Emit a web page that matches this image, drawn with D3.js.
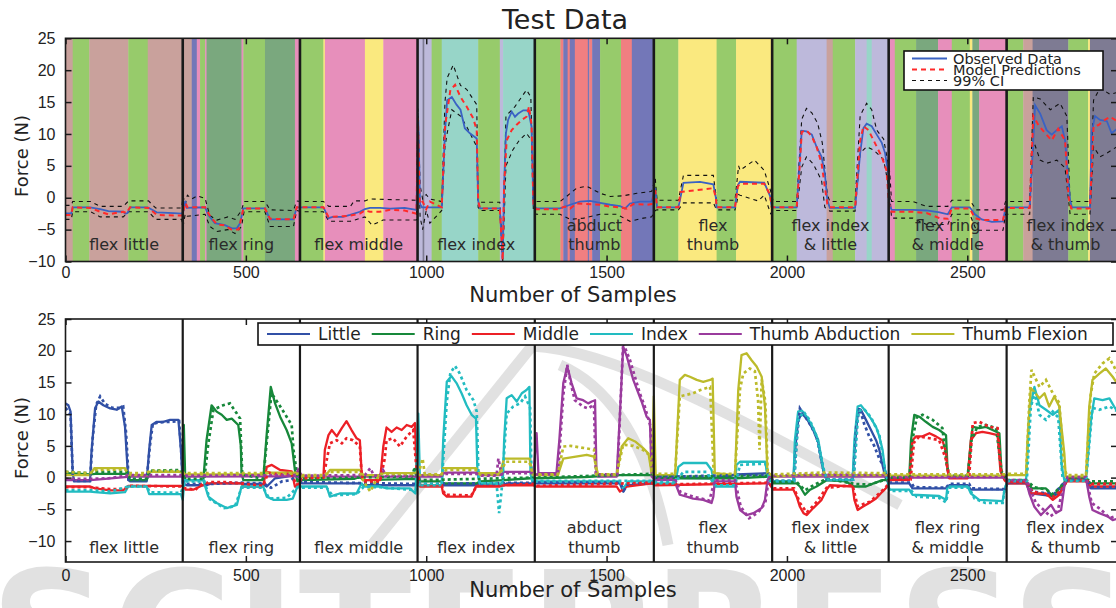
<!DOCTYPE html>
<html>
<head>
<meta charset="utf-8">
<script src="https://cdn.jsdelivr.net/npm/d3@7"></script>
<style>
  body { margin: 0; background: #fff; }
  svg { display: block; font-family: "DejaVu Sans", sans-serif; }
</style>
</head>
<body>
<div id="chart"></div>
<script>
// ---- data (sample index, force N) ----
const xTicks = [0, 500, 1000, 1500, 2000, 2500];
const yTicks = [-10, -5, 0, 5, 10, 15, 20, 25];

const segStarts = [0, 325, 650, 976, 1301, 1631, 1959, 2282, 2609];
const segEnd = 2935;
const segLabels = [["flex little"], ["flex ring"], ["flex middle"], ["flex index"], ["abduct", "thumb"],
  ["flex", "thumb"], ["flex index", "& little"], ["flex ring", "& middle"], ["flex index", "& thumb"]];

// classifier output shown as coloured bands behind the top panel
const bands = [
  [0, 20, "brown"], [20, 66, "green"], [66, 174, "brown"], [174, 228, "green"], [228, 325, "brown"],
  [325, 350, "brown"], [350, 364, "purple"], [364, 373, "pink"], [373, 387, "green"], [387, 391, "pink"],
  [391, 488, "dkgreen"], [488, 493, "pink"], [493, 553, "green"], [553, 636, "dkgreen"], [636, 650, "pink"],
  [650, 715, "green"], [715, 719, "yellow"], [719, 830, "pink"], [830, 881, "yellow"], [881, 976, "pink"],
  [976, 990, "lavender"], [990, 995, "slate"], [995, 1015, "lavender"], [1015, 1043, "green"], [1043, 1144, "teal"],
  [1144, 1204, "green"], [1204, 1213, "lavender"], [1213, 1301, "teal"],
  [1301, 1372, "green"], [1372, 1380, "salmon"], [1380, 1392, "purple"], [1392, 1398, "salmon"], [1398, 1412, "purple"],
  [1412, 1448, "salmon"], [1448, 1452, "purple"], [1452, 1460, "salmon"], [1460, 1482, "purple"], [1482, 1540, "green"],
  [1540, 1570, "salmon"], [1570, 1631, "purple"],
  [1631, 1699, "green"], [1699, 1805, "yellow"], [1805, 1859, "green"], [1859, 1959, "yellow"],
  [1959, 2027, "green"], [2027, 2110, "lavender"], [2110, 2127, "brown"], [2127, 2189, "green"], [2189, 2221, "lavender"],
  [2221, 2235, "teal"], [2235, 2282, "lavender"],
  [2282, 2299, "pink"], [2299, 2358, "green"], [2358, 2419, "dkgreen"], [2419, 2457, "pink"], [2457, 2507, "green"],
  [2507, 2514, "yellow"], [2514, 2533, "dkgreen"], [2533, 2609, "pink"],
  [2609, 2655, "green"], [2655, 2681, "brown"], [2681, 2780, "slate"], [2780, 2835, "green"], [2835, 2840, "yellow"],
  [2840, 2935, "slate"]
];

const observed = [[0,-2.45],[16,-2.45],[20,-1.5],[68,-1.5],[96,-1.8],[119,-2.1],[160,-2.2],[166,-2.5],[172,-2.4],[179,-1.5],[228,-1.5],[253,-2.3],[300,-2.4],[322,-2.5],
  [328,-2.0],[332,-0.5],[336,-1.6],[387,-1.5],[396,-2.7],[414,-4.0],[442,-4.3],[461,-4.8],[475,-4.8],[484,-4.0],[490,-2.5],[493,-1.67],[553,-1.67],[567,-3.4],[632,-3.4],[641,-1.5],
  [655,-1.5],[715,-1.5],[719,-2.0],[729,-3.2],[741,-3.0],[769,-3.0],[789,-2.7],[816,-2.2],[830,-1.8],[844,-1.6],[872,-1.6],[900,-1.7],[940,-1.6],[973,-1.9],
  [978,12.2],[983,-1.0],[988,-1.5],[1043,-1.5],[1052,10.1],[1058,15.3],[1071,15.8],[1084,14.6],[1095,13.8],[1107,10.9],[1121,10.1],[1140,9.3],[1144,-0.5],[1149,-1.67],[1204,-1.67],[1212,-9.6],[1216,2],[1221,10.1],[1227,12.2],[1237,13.5],[1246,12.7],[1255,13.2],[1269,13.7],[1283,13.7],[1292,11.1],[1297,-1.0],
  [1305,-1.67],[1371,-1.67],[1399,-1.1],[1426,-0.6],[1454,-0.5],[1482,-0.8],[1510,-1.1],[1537,-1.3],[1551,-1.7],[1565,-0.9],[1593,-0.6],[1625,-0.6],
  [1635,1.5],[1640,-1.5],[1699,-1.5],[1703,-0.5],[1713,2.35],[1759,2.5],[1796,2.1],[1803,0],[1805,-1.5],[1856,-1.5],[1864,2.0],[1870,2.5],[1937,2.35],[1953,0.3],[1958,-1.5],
  [1962,-1.5],[2027,-1.5],[2036,6.0],[2041,10.5],[2054,10.4],[2069,9.9],[2082,8.0],[2096,6.4],[2105,3.8],[2112,-0.4],[2119,-1.6],[2189,-1.6],[2203,7.0],[2212,10.9],[2221,11.6],[2235,11.2],[2249,9.9],[2263,8.6],[2272,7.0],[2281,3.8],[2284,-1.0],
  [2290,-1.9],[2349,-1.9],[2387,-2.0],[2423,-2.3],[2446,-2.6],[2457,-1.5],[2507,-1.5],[2521,-2.6],[2540,-3.4],[2568,-3.8],[2599,-3.7],[2606,-1.5],
  [2618,-1.5],[2673,-1.5],[2682,8],[2688,14.5],[2702,13.2],[2720,10.6],[2734,9.9],[2748,10.6],[2762,11.2],[2771,9.0],[2785,-0.4],[2790,-1.5],[2840,-1.5],[2845,10.3],[2854,12.8],[2868,12.2],[2887,12.0],[2900,10.1],[2915,10.8]];

const predicted = [[0,-2.7],[16,-2.7],[20,-1.5],[70,-1.6],[96,-2.2],[118,-2.6],[160,-2.2],[169,-2.4],[179,-1.5],[230,-1.6],[253,-2.7],[322,-2.8],
  [328,-1.8],[333,-0.8],[338,-1.5],[387,-1.5],[400,-2.8],[420,-4.2],[440,-4.3],[460,-5.0],[480,-5.0],[488,-3.0],[493,-1.7],[553,-1.7],[567,-3.3],[632,-3.4],[641,-1.5],
  [655,-1.5],[715,-1.5],[729,-3.0],[769,-2.9],[789,-2.8],[816,-2.5],[830,-2.0],[844,-2.2],[870,-2.2],[900,-1.9],[940,-2.0],[973,-2.5],
  [977,12.5],[982,-1.0],[990,-0.6],[1000,-1.8],[1010,-0.6],[1043,-1.5],[1052,11.1],[1067,16.9],[1080,17.7],[1095,15.8],[1112,14.3],[1130,12.5],[1140,10.6],[1144,-0.5],[1149,-1.67],[1204,-1.67],[1212,-9.8],[1216,2],[1223,9.0],[1237,10.6],[1250,11.4],[1265,12.2],[1278,12.7],[1285,14.3],[1292,11.5],[1297,-1.0],
  [1305,-1.8],[1365,-1.8],[1385,-1.4],[1399,-1.7],[1417,-0.9],[1445,-1.0],[1482,-1.1],[1510,-1.4],[1537,-1.5],[1556,-1.7],[1574,-1.0],[1611,-1.1],[1625,-1.0],
  [1635,1.2],[1640,-1.5],[1699,-1.5],[1705,0.9],[1750,1.2],[1796,1.5],[1803,0],[1805,-1.5],[1856,-1.5],[1864,1.8],[1872,2.2],[1937,2.2],[1953,0.5],[1958,-1.5],
  [1962,-1.5],[2027,-1.5],[2036,5.5],[2041,10.3],[2054,10.6],[2069,9.6],[2082,8.0],[2096,5.4],[2105,1.7],[2112,-1.0],[2119,-1.5],[2189,-1.5],[2203,9.0],[2212,11.2],[2226,10.6],[2249,8.0],[2263,6.4],[2276,4.3],[2283,-1.0],
  [2290,-2.2],[2349,-2.2],[2387,-2.4],[2423,-3.2],[2446,-3.3],[2457,-1.7],[2507,-1.7],[2521,-3.2],[2540,-3.5],[2599,-3.5],[2606,-1.5],
  [2618,-1.6],[2673,-1.6],[2683,12.8],[2697,11.4],[2716,10.1],[2734,9.0],[2752,10.8],[2771,9.0],[2781,0],[2788,-1.7],[2840,-1.7],[2850,11.2],[2864,11.4],[2878,12.1],[2896,12.7],[2915,12.0]];

const ciUpper = [[0,-1.2],[16,-1.2],[20,-0.6],[70,-0.6],[96,-1.35],[160,-1.35],[175,-0.5],[230,-0.5],[250,-1.6],[322,-1.6],
  [326,0.2],[332,-1.0],[338,0.4],[350,-0.2],[365,0.3],[387,-0.1],[400,-2.8],[420,-3.5],[450,-3.0],[470,-3.4],[488,-2.0],[495,-0.6],[553,-0.6],[567,-1.9],[632,-2.0],[641,-0.5],
  [655,-0.6],[715,-0.6],[730,-1.35],[790,-1.35],[800,-0.5],[830,-0.5],[844,-0.2],[973,-0.4],
  [977,14.0],[983,2.0],[990,-0.2],[1000,0.5],[1010,-0.2],[1043,-0.6],[1052,15.0],[1058,18.8],[1075,20.8],[1095,17.6],[1112,17.0],[1140,14.6],[1144,-0.5],[1149,-0.7],[1204,-0.7],[1212,-8.5],[1221,12.8],[1246,14.3],[1278,16.9],[1290,15.8],[1297,0.0],
  [1305,-0.6],[1371,-0.6],[1389,0.2],[1417,1.5],[1445,1.8],[1482,0.7],[1510,0.2],[1546,0.3],[1584,0.7],[1625,1.0],
  [1635,3.0],[1640,-0.4],[1699,-0.4],[1713,3.5],[1796,3.5],[1805,-0.4],[1856,-0.4],[1866,5.0],[1870,4.3],[1910,5.9],[1937,4.3],[1955,1.0],
  [1962,-0.6],[2027,-0.6],[2041,12.3],[2054,14.0],[2069,13.3],[2085,11.7],[2098,8.6],[2112,0.5],[2119,-0.6],[2189,-0.6],[2203,12.9],[2221,14.8],[2235,13.8],[2249,10.6],[2268,9.2],[2285,4.0],
  [2290,-0.6],[2349,-0.6],[2387,-1.35],[2446,-1.35],[2457,-0.4],[2507,-0.4],[2525,-1.9],[2599,-1.9],[2606,-0.6],
  [2618,-0.6],[2673,-0.6],[2683,15.8],[2702,15.5],[2730,13.8],[2757,14.8],[2776,12.8],[2785,-0.6],[2840,-0.6],[2850,15.3],[2868,17.2],[2896,16.2],[2915,16.5]];

const ciLower = [[0,-3.4],[16,-3.4],[20,-2.2],[70,-2.2],[96,-3.0],[160,-3.0],[175,-2.2],[230,-2.2],[250,-3.4],[322,-3.4],
  [326,-4.5],[332,-2.5],[338,-2.9],[387,-2.6],[400,-4.5],[420,-5.3],[450,-5.0],[470,-5.6],[488,-4.5],[495,-2.2],[553,-2.2],[567,-4.5],[632,-4.5],[641,-2.0],
  [655,-2.2],[715,-2.2],[730,-3.7],[790,-3.7],[830,-3.0],[850,-4.3],[880,-3.5],[973,-3.5],
  [977,10.0],[983,-3.0],[990,-5.0],[1000,-2.0],[1010,-4.0],[1043,-2.0],[1052,8.0],[1058,10.1],[1071,13.8],[1095,12.8],[1112,11.2],[1140,8.0],[1144,-1.5],[1149,-2.0],[1204,-2.0],[1212,-10.2],[1221,5.0],[1240,7.5],[1258,9.0],[1278,10.1],[1292,9.0],[1297,-2.0],
  [1305,-2.6],[1371,-2.6],[1399,-3.4],[1436,-3.2],[1482,-2.6],[1528,-2.6],[1565,-3.7],[1602,-3.2],[1625,-3.0],
  [1635,-2.0],[1640,-1.9],[1699,-1.9],[1713,-0.8],[1796,-0.8],[1805,-1.9],[1856,-1.9],[1866,0.5],[1870,0.4],[1920,-0.5],[1937,0.4],[1955,-2.5],
  [1962,-2.0],[2027,-2.0],[2041,4.8],[2054,6.4],[2073,5.3],[2096,2.7],[2105,-1.5],[2119,-2.1],[2189,-2.1],[2203,7.0],[2221,8.0],[2240,7.5],[2268,6.0],[2285,0.8],
  [2290,-3.2],[2349,-3.2],[2387,-4.2],[2446,-4.2],[2457,-2.6],[2507,-2.6],[2525,-5.1],[2599,-5.1],[2606,-2.6],
  [2618,-2.6],[2673,-2.6],[2683,9.0],[2702,5.9],[2720,5.4],[2748,5.9],[2771,4.7],[2785,-2.6],[2840,-2.6],[2850,8.0],[2868,6.4],[2887,7.0],[2915,8.0]];

// per-finger forces, bottom panel
const fingerNames = ["Little", "Ring", "Middle", "Index", "Thumb Abduction", "Thumb Flexion"];

const littleObs = [[0,11.7],[8,11.4],[14,10.4],[20,0.7],[24,-0.6],[68,-0.6],[72,4],[82,10.9],[91,12.0],[105,11.4],[124,10.9],[142,10.7],[156,11.2],[165,8.0],[174,-0.4],[179,-0.6],[225,-0.6],[232,4.4],[239,8.3],[253,8.8],[271,8.8],[290,9.1],[313,9.1],[320,4.4],[325,-0.9],
  [336,-1.2],[391,-1.2],[405,-0.9],[488,-0.9],[493,-1.0],[548,-1.0],[558,-1.4],[581,-0.1],[613,0.15],[643,0.6],
  [655,-0.9],[816,-0.9],[826,-1.2],[970,-1.2],[983,-1.2],[1216,-1.2],[1223,-0.9],[1295,-0.9],
  [1305,-0.9],[1537,-0.9],[1546,-2.2],[1556,-1.2],[1625,-0.9],[1635,0],[1800,-0.1],[1860,0.5],[1950,0.7],
  [1962,-0.6],[2018,-0.6],[2022,4],[2031,9.0],[2041,10.1],[2055,9.3],[2073,7.5],[2087,5.5],[2101,1.0],[2110,-0.4],[2182,-0.4],[2187,4],[2196,10.0],[2205,10.7],[2219,9.1],[2233,7.5],[2247,5.9],[2256,4.4],[2265,2.0],[2273,0],[2279,-0.6],
  [2284,-0.9],[2339,-0.9],[2348,-1.7],[2441,-1.7],[2450,-1.2],[2501,-1.2],[2510,-1.9],[2603,-1.9],
  [2612,-0.9],[2663,-0.9],[2676,-2.5],[2737,-2.9],[2755,-2.5],[2769,-1.0],[2778,-0.4],[2829,-0.4],[2843,-1.7],[2915,-1.7]];
const littlePred = [[0,11.0],[14,10.0],[20,0.5],[24,-0.5],[68,-0.5],[75,6],[85,11.5],[96,12.8],[110,11.6],[130,11.0],[150,11.0],[160,11.2],[168,7],[175,-0.3],[225,-0.3],[234,5],[242,8.5],[260,8.7],[290,8.8],[315,8.9],[321,4],[326,-0.8],
  [336,-1.0],[400,-1.0],[488,-0.8],[548,-0.9],[570,-1.6],[600,-0.6],[625,-0.4],[643,0.4],
  [655,-0.7],[970,-1.0],[983,-1.0],[1295,-0.8],
  [1305,-0.8],[1537,-0.8],[1548,-2.0],[1560,-1.0],[1625,-0.8],[1635,0.1],[1950,0.5],
  [1962,-0.5],[2020,-0.5],[2027,6],[2036,10.9],[2046,10.0],[2064,8.4],[2082,6.5],[2100,1.5],[2110,-0.3],[2185,-0.3],[2192,8],[2201,11.0],[2214,8.5],[2228,6.5],[2242,5.0],[2256,3.0],[2270,1.5],[2279,-0.5],
  [2284,-0.8],[2345,-0.8],[2352,-1.5],[2441,-1.6],[2450,-1.0],[2505,-1.0],[2512,-1.7],[2603,-1.8],
  [2612,-0.8],[2665,-0.8],[2680,-2.2],[2740,-2.6],[2765,-1.0],[2778,-0.3],[2830,-0.3],[2845,-1.5],[2915,-1.5]];

const ringObs = [[0,0.7],[68,0.5],[82,0.6],[170,0.6],[179,-0.4],[225,-0.4],[234,0.9],[320,0.9],[325,0.5],
  [328,8.3],[332,-0.4],[382,-0.4],[391,5.9],[405,11.4],[419,10.4],[433,9.9],[447,9.1],[461,9.3],[479,8.3],[486,5],[488,0.7],[493,-0.4],[548,-0.4],[558,7.0],[569,14.3],[581,11.7],[595,9.6],[613,7.5],[627,5.4],[636,1.2],[643,-0.6],
  [655,-0.4],[800,-0.2],[816,0.1],[826,-0.4],[970,-0.2],
  [983,-0.6],[1043,-0.6],[1050,-0.9],[1140,-0.9],[1149,-0.6],[1216,-0.4],[1290,-0.1],
  [1305,-0.1],[1440,0.1],[1537,0.4],[1625,0.4],[1635,-0.1],[1860,-0.1],[1950,0.15],
  [1962,-0.9],[2027,-0.9],[2036,-1.4],[2050,-2.7],[2064,-1.9],[2082,-1.4],[2110,-0.4],[2164,-0.6],[2185,-1.4],[2219,-1.4],[2240,-0.9],[2265,-0.4],[2279,-0.4],
  [2284,-0.1],[2339,-0.1],[2344,5.9],[2353,9.9],[2367,9.6],[2385,8.8],[2404,8.0],[2422,7.5],[2441,6.7],[2445,1.7],[2450,0.15],[2501,0.15],[2510,5.9],[2515,8.0],[2533,7.8],[2552,8.0],[2570,7.5],[2589,7.0],[2595,0.7],[2603,0],
  [2612,-0.6],[2663,-0.6],[2680,-1.7],[2718,-1.7],[2737,-3.0],[2755,-1.7],[2775,-0.4],[2829,-0.4],[2843,-0.9],[2915,-0.9]];
const ringPred = [[0,0.9],[68,0.7],[82,0.9],[170,0.9],[179,-0.2],[225,-0.2],[234,1.1],[320,1.2],[325,0.8],
  [332,-0.2],[385,-0.2],[395,5],[410,10.7],[437,11.4],[456,11.7],[475,10.1],[484,9.3],[490,0.5],[548,-0.2],[562,8],[571,13.3],[590,11.7],[613,9.6],[627,8.3],[632,4.4],[640,1.2],[645,-0.4],
  [655,-0.2],[960,0.2],[969,1.7],[973,0],[983,-0.4],[1295,0],
  [1305,0],[1625,0.6],[1635,0.1],[1950,0.3],
  [1962,-0.7],[2027,-0.7],[2050,-2.0],[2080,-1.0],[2110,-0.2],[2190,-1.0],[2230,-1.1],[2279,-0.2],
  [2284,0],[2340,0],[2348,6],[2360,9.5],[2376,9.9],[2404,9.1],[2431,7.8],[2443,2],[2450,0.3],[2501,0.3],[2512,6],[2528,8.0],[2552,8.3],[2580,7.8],[2595,1],[2603,0.2],
  [2612,-0.4],[2663,-0.4],[2685,-1.5],[2720,-1.9],[2737,-2.6],[2760,-1.4],[2778,-0.2],[2829,-0.2],[2845,-0.6],[2915,-0.6]];

const middleObs = [[0,-1.4],[68,-1.4],[82,-1.7],[124,-2.0],[160,-2.0],[174,-1.3],[325,-1.3],
  [332,-1.9],[354,-1.9],[373,-1.4],[391,-0.9],[488,-0.9],[493,-1.4],[548,-1.4],[558,1.7],[572,2.0],[595,1.2],[627,1.0],[636,-1.4],[645,-1.4],
  [655,0.15],[715,0.15],[719,4.4],[729,6.7],[738,7.5],[752,6.5],[766,7.8],[779,8.9],[793,7.5],[807,6.2],[816,5.9],[821,0.7],[826,-0.4],[872,-0.4],[881,4.9],[890,7.9],[904,7.2],[918,7.9],[932,7.5],[946,8.3],[960,8.0],[969,8.6],[973,1],
  [983,-1.4],[1043,-1.4],[1047,-2.5],[1057,-3.0],[1125,-3.0],[1138,-1.4],[1204,-1.4],[1216,-1.2],[1295,-1.2],
  [1305,-1.4],[1528,-1.4],[1537,-2.2],[1556,-1.4],[1625,-0.9],[1635,-1.2],[1950,-0.9],
  [1962,-1.9],[2018,-1.9],[2027,-3.0],[2036,-4.6],[2046,-5.6],[2055,-5.9],[2073,-4.8],[2096,-3.5],[2110,-1.9],[2119,-1.2],[2182,-1.4],[2187,-3.5],[2196,-5.1],[2210,-4.6],[2228,-4.0],[2247,-3.3],[2265,-2.2],[2279,-1.4],
  [2284,-0.4],[2339,-0.4],[2348,5.9],[2358,6.5],[2376,6.5],[2395,7.0],[2413,6.5],[2431,5.9],[2441,4],[2445,1.2],[2450,-0.1],[2501,-0.1],[2510,5.9],[2524,7.0],[2542,7.2],[2561,7.0],[2584,6.7],[2592,1],[2603,-0.4],
  [2612,-0.9],[2663,-0.9],[2676,-2.5],[2718,-2.5],[2737,-3.5],[2755,-2.7],[2775,-0.6],[2829,-0.6],[2843,-1.4],[2915,-1.4]];
const middlePred = [[0,-1.5],[68,-1.5],[85,-1.6],[124,-1.8],[165,-1.8],[174,-1.3],[325,-1.4],
  [332,-1.7],[360,-1.9],[380,-1.0],[400,-0.7],[440,-0.7],[488,-0.9],[548,-1.3],[562,0.8],[590,0.5],[627,0.6],[640,-1.2],
  [655,-0.1],[715,0],[725,3],[733,5.4],[752,5.9],[766,5.4],[779,6.2],[797,5.9],[816,4.9],[821,0.5],[826,-0.6],[872,-0.6],[885,3],[890,5.9],[908,6.2],[927,4.9],[946,6.5],[964,7.5],[972,2],
  [983,-1.2],[1043,-1.2],[1052,-2.7],[1125,-2.8],[1140,-1.3],[1295,-1.0],
  [1305,-1.3],[1625,-0.8],[1635,-1.1],[1950,-0.8],
  [1962,-1.7],[2020,-1.7],[2036,-4.0],[2055,-5.5],[2080,-4.0],[2110,-1.6],[2182,-1.2],[2196,-4.5],[2230,-3.8],[2265,-2.0],[2279,-1.2],
  [2284,-0.3],[2343,-0.3],[2352,5.5],[2367,6.5],[2395,6.2],[2422,5.9],[2440,3],[2450,0],[2505,0],[2515,8.6],[2533,8.8],[2561,8.0],[2584,7.8],[2594,1],[2603,-0.2],
  [2612,-0.7],[2665,-0.7],[2680,-2.2],[2740,-3.0],[2760,-2.0],[2778,-0.4],[2829,-0.4],[2845,-1.0],[2915,-1.0]];

const indexObs = [[0,-2.2],[68,-2.2],[82,-2.3],[124,-2.5],[165,-2.3],[174,-1.4],[225,-1.4],[232,-2.6],[320,-2.6],[325,-3.5],
  [330,-0.4],[382,-0.4],[396,-3.0],[419,-4.0],[447,-4.8],[475,-4.3],[488,-1.4],[548,-1.4],[558,-3.0],[576,-3.5],[613,-3.5],[630,-3.3],[643,-1.4],
  [655,-1.4],[724,-1.4],[733,-3.0],[760,-2.5],[807,-2.5],[821,-0.9],[826,-1.4],[872,-1.4],[890,-1.7],[955,-1.7],[970,-2.5],
  [978,10.1],[983,-1.2],[1043,-1.2],[1047,5.9],[1057,15.1],[1070,16.0],[1084,14.9],[1098,13.3],[1112,11.4],[1126,9.9],[1138,9.3],[1142,0.7],[1149,-0.9],[1204,-0.9],[1212,-1.2],[1216,5.9],[1223,12.5],[1237,13.0],[1251,12.0],[1265,13.3],[1278,13.8],[1286,14.3],[1289,0.7],[1295,-0.9],
  [1305,-0.6],[1537,-0.6],[1546,-1.7],[1560,-0.6],[1625,-0.6],
  [1635,-0.9],[1690,-0.9],[1699,1.7],[1713,2.3],[1777,2.3],[1791,1.2],[1800,-1.4],[1856,-1.4],[1860,2.0],[1870,2.5],[1940,2.5],[1946,0.2],[1953,-0.6],
  [1962,-0.6],[2018,-0.6],[2022,5.9],[2031,10.4],[2041,10.6],[2055,9.6],[2073,7.8],[2087,5.9],[2101,1.2],[2110,-0.4],[2182,-0.4],[2187,5.9],[2196,11.2],[2205,11.4],[2219,10.4],[2233,9.3],[2247,8.0],[2256,6.5],[2265,4.4],[2273,0.7],[2279,-0.4],
  [2284,-1.9],[2339,-1.9],[2348,-2.7],[2422,-2.9],[2441,-3.5],[2445,-1.4],[2501,-1.4],[2510,-2.5],[2533,-3.5],[2598,-3.7],[2603,-1.9],
  [2612,-0.4],[2663,-0.4],[2672,10.5],[2686,14.3],[2700,11.4],[2718,10.7],[2737,9.9],[2755,10.7],[2762,1.7],[2769,-0.4],[2829,-0.4],[2843,9.1],[2852,12.5],[2875,12.2],[2894,12.5],[2907,11.2],[2915,10.5]];
const indexPred = [[0,-2.0],[68,-2.0],[124,-2.2],[174,-1.4],[225,-1.4],[234,-2.3],[320,-2.4],
  [332,-0.6],[385,-0.6],[400,-3.4],[440,-4.8],[470,-4.5],[488,-1.6],[548,-1.6],[565,-3.3],[613,-3.2],[643,-1.5],
  [655,-1.6],[724,-1.6],[740,-2.8],[807,-2.6],[826,-1.5],[872,-1.5],[955,-1.9],[970,-2.0],
  [983,-1.0],[1043,-1.0],[1057,12.0],[1067,16.5],[1080,17.6],[1093,16.4],[1112,13.8],[1131,12.2],[1140,10.4],[1145,0],[1149,-0.9],[1195,-0.9],[1202,-5.6],[1209,-2.0],[1215,3],[1223,10.1],[1241,11.2],[1260,11.7],[1274,12.8],[1288,11.0],[1292,0],[1297,-0.8],
  [1305,-0.5],[1625,-0.5],
  [1635,-0.7],[1690,-0.7],[1713,0.9],[1777,0.9],[1800,-1.2],[1856,-1.2],[1870,2.0],[1940,2.2],[1953,-0.4],
  [1962,-0.5],[2020,-0.5],[2031,9],[2046,10.4],[2064,9.0],[2082,6.5],[2101,1.5],[2110,-0.3],[2185,-0.3],[2198,10.5],[2214,10.8],[2233,9.5],[2256,6.8],[2273,1.0],[2279,-0.3],
  [2284,-2.1],[2345,-2.1],[2360,-3.0],[2422,-3.2],[2441,-3.9],[2448,-1.6],[2505,-1.6],[2520,-3.3],[2550,-4.0],[2598,-4.0],[2603,-2.0],
  [2612,-0.5],[2665,-0.5],[2676,11],[2686,13.5],[2700,9.9],[2718,9.1],[2737,10.4],[2752,9.5],[2764,0],[2775,-0.5],[2829,-0.5],[2847,11],[2866,10.7],[2894,11.2],[2915,10.5]];

const abductObs = [[0,-0.4],[68,-0.4],[110,-0.2],[180,0.15],[325,0.15],[330,0.15],[643,0.2],[655,0.15],[970,0.15],
  [983,0.15],[1043,0.15],[1050,0.8],[1140,0.8],[1149,0.4],[1204,0.4],[1216,0.9],[1290,0.9],[1297,0.5],
  [1306,7.0],[1311,0.7],[1361,0.7],[1369,5.9],[1380,14.9],[1391,17.5],[1403,14.9],[1417,12.5],[1435,12.2],[1449,11.7],[1459,12.0],[1468,12.2],[1472,0.7],[1477,0.15],[1528,0.15],[1537,10.1],[1546,20.6],[1556,19.1],[1574,15.4],[1597,12.0],[1611,9.6],[1620,9.1],[1625,0.2],
  [1635,-0.4],[1690,-0.4],[1694,-1.4],[1703,-2.7],[1722,-3.0],[1740,-3.3],[1768,-3.5],[1791,-4.0],[1796,-3.0],[1800,-0.6],[1856,-0.6],[1860,-3.0],[1870,-5.1],[1888,-5.9],[1907,-5.6],[1930,-4.8],[1939,-3.5],[1946,-0.4],[1953,0],
  [1962,0.15],[2279,0.2],[2284,0],[2603,0],
  [2612,-0.6],[2663,-0.6],[2672,-2.5],[2686,-4.6],[2704,-5.9],[2718,-5.1],[2732,-4.3],[2746,-5.6],[2760,-5.1],[2769,-1.4],[2778,-0.1],[2829,-0.1],[2838,-3.0],[2847,-5.1],[2866,-5.6],[2889,-6.1],[2903,-6.7],[2915,-6.5]];
const abductPred = [[0,-0.2],[68,-0.2],[120,-0.1],[180,0.4],[325,0.4],[330,0.3],[640,0.4],[645,1.2],
  [655,0.3],[830,0.4],[845,1.5],[855,0.3],[872,0.3],[880,1.2],[890,0.3],[970,0.3],
  [983,0.3],[1043,0.3],[1055,0.6],[1140,0.6],[1150,0.3],[1195,0.3],[1200,3.0],[1209,0.5],[1220,0.7],[1295,0.7],
  [1305,0.5],[1365,0.5],[1380,13],[1391,17.8],[1400,15],[1412,12.2],[1435,11.2],[1449,10.9],[1465,11.5],[1470,0.5],[1530,0.5],[1546,21.2],[1565,18.5],[1592,13.3],[1606,11.2],[1622,8],[1626,0.3],
  [1635,-0.2],[1690,-0.2],[1705,-2.3],[1740,-3.0],[1785,-3.6],[1800,-0.4],[1856,-0.4],[1872,-4.6],[1895,-6.4],[1920,-5.5],[1940,-4.0],[1950,0],
  [1962,0.3],[2100,0.5],[2279,0.4],[2284,0.1],[2603,0.1],
  [2612,-0.4],[2665,-0.4],[2690,-4.0],[2710,-5.0],[2730,-6.1],[2750,-5.3],[2769,-1.0],[2778,0.1],[2829,0.1],[2845,-4.0],[2870,-5.0],[2895,-6.4],[2915,-6.0]];

const flexionObs = [[0,0.4],[68,0.4],[80,1.5],[165,1.5],[174,0.4],[225,0.4],[234,0.9],[320,0.9],
  [330,0.5],[548,0.5],[558,0.8],[643,0.8],
  [655,0.15],[719,0.15],[733,1.2],[816,1.2],[826,0.4],[872,0.4],[881,0.7],[970,0.7],
  [983,0.4],[1043,0.4],[1047,1.5],[1138,1.5],[1149,0.7],[1204,0.7],[1216,3.0],[1286,3.0],[1295,0.7],
  [1305,0.4],[1365,0.4],[1380,3.0],[1445,3.6],[1465,3.3],[1472,1.5],[1477,0.4],[1528,0.4],[1542,4.9],[1560,6.2],[1579,5.7],[1602,4.6],[1616,3.8],[1625,0.7],
  [1631,12.8],[1636,0.4],[1690,0.4],[1697,8.6],[1703,15.4],[1717,16.2],[1731,15.9],[1750,15.4],[1768,15.1],[1787,15.4],[1794,15.6],[1800,0.7],[1856,0.4],[1865,13.8],[1874,19.3],[1888,19.6],[1902,18.5],[1916,17.5],[1930,15.9],[1939,11.2],[1946,0.7],[1953,0.4],
  [1962,0.15],[2030,0.4],[2279,0.4],[2284,0.3],[2603,0.3],
  [2612,0.4],[2663,0.4],[2667,5.9],[2676,14.1],[2686,13.5],[2700,12.5],[2714,13.3],[2727,11.2],[2741,12.8],[2755,11.2],[2769,3.8],[2773,0.15],[2829,0.15],[2838,11.2],[2847,15.4],[2866,16.4],[2884,17.2],[2903,15.9],[2915,14.9]];
const flexionPred = [[0,0.9],[68,0.7],[85,1.2],[165,1.3],[175,0.7],[225,0.7],[234,1.1],[320,1.0],
  [330,0.7],[548,0.7],[560,0.7],[643,0.6],
  [655,0.4],[719,0.4],[733,0.9],[816,0.9],[826,-0.6],[845,-2.2],[860,-0.5],[872,0.6],[970,0.6],
  [983,1.5],[990,3],[996,0.5],[1043,0.5],[1055,1.2],[1138,1.2],[1149,0.5],[1204,0.5],[1220,2.5],[1286,2.5],[1295,0.5],
  [1305,0.5],[1365,0.5],[1380,4.9],[1400,5.0],[1445,4.6],[1465,4.4],[1472,0.5],[1528,0.5],[1546,5.2],[1574,5.0],[1600,4.4],[1620,3.5],[1625,0.5],
  [1636,0.6],[1690,0.6],[1703,12.8],[1740,13.3],[1760,13.8],[1787,14.3],[1797,0.6],[1856,0.6],[1870,14],[1879,16.4],[1897,17.2],[1911,16.8],[1920,12.2],[1924,4.4],[1930,15.5],[1940,12],[1947,0.6],
  [1962,0.5],[2100,0.8],[2279,0.7],[2284,0.5],[2603,0.5],
  [2612,0.6],[2663,0.6],[2672,12],[2678,17.0],[2700,14.3],[2718,15.4],[2737,13.3],[2755,11.8],[2768,2],[2775,0.4],[2829,0.4],[2842,13],[2852,16.4],[2875,18.0],[2894,18.8],[2907,17.5],[2915,16.5]];

const fingerObs = [littleObs, ringObs, middleObs, indexObs, abductObs, flexionObs];
const fingerPred = [littlePred, ringPred, middlePred, indexPred, abductPred, flexionPred];

// ---- styles ----
const bandColor = {
  brown: "#c9a19c", green: "#97cb6b", dkgreen: "#7aa87e", purple: "#7377b8", pink: "#e78fbb",
  yellow: "#fae97f", teal: "#97d5c8", lavender: "#bdb9db", salmon: "#f07f81", slate: "#7e7b93"
};
const fingerColor = ["#3150a6", "#17883a", "#ec2026", "#22bcc1", "#9a3b9d", "#bcbb2b"];

const svg = d3.select("#chart").append("svg")
    .attr("width", 1116)
    .attr("height", 608);

const x = d3.scaleLinear().domain([0, 2915]).range([65.5, 1117]);
const yTop = d3.scaleLinear().domain([-10, 25]).range([261.5, 38.3]);
const yBot = d3.scaleLinear().domain([-13.3, 25]).range([562, 319]);

// faint publisher watermark behind the lower panel
const wm = svg.append("g").attr("opacity", 0.45);
wm.append("text")
    .attr("x", -10).attr("y", 690)
    .attr("textLength", 1140)
    .style("font-size", "165px").style("font-weight", "bold")
    .attr("fill", "#bdbdbd")
    .text("SCITEPRESS");
wm.append("path").attr("d", "M372,545 L532,346 C620,350 760,430 900,505")
    .attr("fill", "none").attr("stroke", "#bdbdbd").attr("stroke-width", 11);
wm.append("path").attr("d", "M560,365 Q640,400 668,545")
    .attr("fill", "none").attr("stroke", "#bdbdbd").attr("stroke-width", 11);

function panel(y, id, padX) {
    const top = y.range()[1], bottom = y.range()[0];
    const g = svg.append("g");
    g.append("clipPath").attr("id", id)
      .append("rect").attr("x", x.range()[0]).attr("y", top)
      .attr("width", x.range()[1] - x.range()[0]).attr("height", bottom - top);
    const inner = g.append("g").attr("clip-path", `url(#${id})`);

    const axisG = g.append("g");
    axisG.append("g").attr("transform", `translate(0,${bottom})`)
        .call(d3.axisBottom(x).tickValues(xTicks).tickSize(-6).tickPadding(padX).tickFormat(d3.format("d")));
    axisG.append("g").attr("transform", `translate(0,${top})`)
        .call(d3.axisTop(x).tickValues(xTicks).tickSize(-6).tickFormat(""));
    axisG.append("g").attr("transform", `translate(${x.range()[0]},0)`)
        .call(d3.axisLeft(y).tickValues(yTicks).tickSize(-6).tickPadding(10));
    axisG.append("g").attr("transform", `translate(${x.range()[1]},0)`)
        .call(d3.axisRight(y).tickValues(yTicks).tickSize(-6).tickFormat(""));
    axisG.selectAll(".domain").remove();
    axisG.selectAll(".tick line").attr("stroke", "#1a1a1a").attr("stroke-width", 1.5);
    axisG.selectAll(".tick text").style("font-size", "16px").attr("fill", "#222");

    return { g, inner, axisG, top, bottom };
}

// ===== top panel =====
const P1 = panel(yTop, "clipTop", 5);

P1.inner.selectAll("rect.band").data(bands).enter().append("rect")
    .attr("class", "band")
    .attr("x", d => x(d[0]))
    .attr("width", d => x(d[1]) - x(d[0]) + 0.4)
    .attr("y", P1.top).attr("height", P1.bottom - P1.top)
    .attr("fill", d => bandColor[d[2]]);

const lineTop = d3.line().x(d => x(d[0])).y(d => yTop(d[1]));

P1.inner.append("path").datum(ciUpper).attr("d", lineTop)
    .attr("fill", "none").attr("stroke", "#111").attr("stroke-width", 1.1).attr("stroke-dasharray", "4,4");
P1.inner.append("path").datum(ciLower).attr("d", lineTop)
    .attr("fill", "none").attr("stroke", "#111").attr("stroke-width", 1.1).attr("stroke-dasharray", "4,4");
P1.inner.append("path").datum(observed).attr("d", lineTop)
    .attr("fill", "none").attr("stroke", "#3a62c4").attr("stroke-width", 1.8);
P1.inner.append("path").datum(predicted).attr("d", lineTop)
    .attr("fill", "none").attr("stroke", "#ff2a2a").attr("stroke-width", 2).attr("stroke-dasharray", "5,4");

// segment dividers
P1.inner.selectAll("line.seg").data(segStarts.slice(1)).enter().append("line")
    .attr("x1", d => x(d)).attr("x2", d => x(d))
    .attr("y1", P1.top).attr("y2", P1.bottom)
    .attr("stroke", "#1a1a1a").attr("stroke-width", 2.6);

function segmentLabels(P, base1, base2) {
    segLabels.forEach((lab, i) => {
        const cx = x((segStarts[i] + (segStarts[i + 1] || segEnd)) / 2);
        const t = P.inner.append("text")
            .attr("text-anchor", "middle")
            .style("font-size", "16px")
            .attr("fill", "#2b2b2b");
        if (lab.length === 1) {
            t.append("tspan").attr("x", cx).attr("y", base2).text(lab[0]);
        } else {
            t.append("tspan").attr("x", cx).attr("y", base1).text(lab[0]);
            t.append("tspan").attr("x", cx).attr("y", base2).text(lab[1]);
        }
    });
}
segmentLabels(P1, 231, 250);

P1.g.append("rect")
    .attr("x", x.range()[0]).attr("y", P1.top)
    .attr("width", x.range()[1] - x.range()[0]).attr("height", P1.bottom - P1.top)
    .attr("fill", "none").attr("stroke", "#1a1a1a").attr("stroke-width", 1.6);

// top legend
const leg1 = svg.append("g");
leg1.append("rect").attr("x", 904).attr("y", 51).attr("width", 199).attr("height", 39)
    .attr("fill", "#fff").attr("stroke", "#111").attr("stroke-width", 1.6);
const leg1Items = [
    { label: "Observed Data", color: "#3a62c4", dash: null, w: 1.8 },
    { label: "Model Predictions", color: "#ff2a2a", dash: "5,4", w: 2 },
    { label: "99% CI", color: "#111", dash: "4,4", w: 1.1 }
];
leg1Items.forEach((d, i) => {
    const cy = 58.5 + i * 11;
    leg1.append("line").attr("x1", 912).attr("x2", 947).attr("y1", cy).attr("y2", cy)
        .attr("stroke", d.color).attr("stroke-width", d.w).attr("stroke-dasharray", d.dash);
    leg1.append("text").attr("x", 953).attr("y", cy + 5)
        .style("font-size", "14.5px").attr("fill", "#222").text(d.label);
});

// ===== bottom panel =====
const P2 = panel(yBot, "clipBot", 8);
const lineBot = d3.line().x(d => x(d[0])).y(d => yBot(d[1]));

fingerObs.forEach((s, i) => {
    P2.inner.append("path").datum(s).attr("d", lineBot)
        .attr("fill", "none").attr("stroke", fingerColor[i]).attr("stroke-width", 2.3)
        .attr("stroke-linejoin", "round");
});
fingerPred.forEach((s, i) => {
    P2.inner.append("path").datum(s).attr("d", lineBot)
        .attr("fill", "none").attr("stroke", fingerColor[i]).attr("stroke-width", 2.7)
        .attr("stroke-dasharray", "3,3");
});

P2.inner.selectAll("line.seg").data(segStarts.slice(1)).enter().append("line")
    .attr("x1", d => x(d)).attr("x2", d => x(d))
    .attr("y1", P2.top).attr("y2", P2.bottom)
    .attr("stroke", "#1a1a1a").attr("stroke-width", 2.2);

segmentLabels(P2, 533, 553);

P2.g.append("rect")
    .attr("x", x.range()[0]).attr("y", P2.top)
    .attr("width", x.range()[1] - x.range()[0]).attr("height", P2.bottom - P2.top)
    .attr("fill", "none").attr("stroke", "#1a1a1a").attr("stroke-width", 1.6);

// bottom legend, entries packed left to right
const leg2 = svg.append("g");
leg2.append("rect").attr("x", 258).attr("y", 323).attr("width", 855).attr("height", 22)
    .attr("fill", "#fff").attr("stroke", "#111").attr("stroke-width", 1.6);
let lx = 267;
fingerNames.forEach((name, i) => {
    leg2.append("line").attr("x1", lx).attr("x2", lx + 43).attr("y1", 334).attr("y2", 334)
        .attr("stroke", fingerColor[i]).attr("stroke-width", 2.2);
    const t = leg2.append("text").attr("x", lx + 51).attr("y", 340)
        .style("font-size", "17px").attr("fill", "#222").text(name);
    lx += 51 + t.node().getComputedTextLength() + 11;
});

// titles and axis labels
svg.append("text").attr("x", 565).attr("y", 29).attr("text-anchor", "middle")
    .style("font-size", "27px").attr("fill", "#222").text("Test Data");
svg.append("text").attr("x", 573).attr("y", 302).attr("text-anchor", "middle")
    .style("font-size", "21px").attr("fill", "#222").text("Number of Samples");
svg.append("text").attr("x", 573).attr("y", 597).attr("text-anchor", "middle")
    .style("font-size", "21px").attr("fill", "#222").text("Number of Samples");
[[156], [438]].forEach(([cy]) => {
    svg.append("text")
        .attr("transform", `translate(22,${cy}) rotate(-90)`)
        .attr("text-anchor", "middle").attr("dy", "0.35em")
        .style("font-size", "18px").attr("fill", "#222").text("Force (N)");
});
</script>
</body>
</html>
